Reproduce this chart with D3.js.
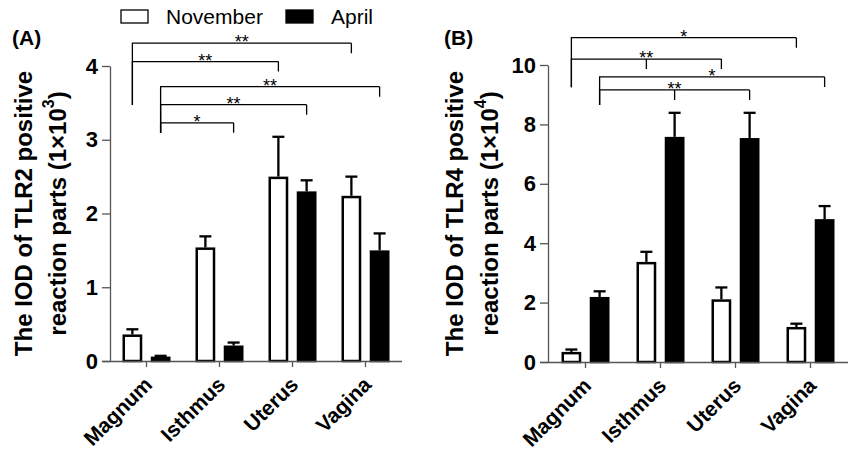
<!DOCTYPE html>
<html>
<head>
<meta charset="utf-8">
<script src="https://cdn.jsdelivr.net/npm/d3@7"></script>
<style>
  body { margin: 0; background: #fff; }
  text { font-family: "Liberation Sans", Arial, sans-serif; }
</style>
</head>
<body>
<script>
// Tissue segments and the two sampling months
const categories = ["Magnum", "Isthmus", "Uterus", "Vagina"];
const seriesNames = ["November", "April"];

// (A) TLR2 IOD, x10^3 (mean and upper error)
const tlr2Nov = [0.36, 1.54, 2.50, 2.24];
const tlr2NovErr = [0.07, 0.15, 0.54, 0.26];
const tlr2Apr = [0.06, 0.21, 2.30, 1.50];
const tlr2AprErr = [0.01, 0.04, 0.15, 0.23];
const tlr2Ticks = [0, 1, 2, 3, 4];

// (B) TLR4 IOD, x10^4
const tlr4Nov = [0.34, 3.37, 2.11, 1.18];
const tlr4NovErr = [0.08, 0.34, 0.40, 0.11];
const tlr4Apr = [2.19, 7.58, 7.54, 4.81];
const tlr4AprErr = [0.19, 0.81, 0.85, 0.44];
const tlr4Ticks = [0, 2, 4, 6, 8, 10];

// significance brackets: level / base in data units
const tlr2Sig = [
  { from: ["Magnum", "November"], to: [["Vagina", "November"]], level: 4.31, base: 3.47, label: "**" },
  { from: ["Magnum", "November"], to: [["Uterus", "November"]], level: 4.06, base: 3.47, label: "**" },
  { from: ["Magnum", "April"], to: [["Vagina", "April"]], level: 3.72, base: 3.09, label: "**" },
  { from: ["Magnum", "April"], to: [["Uterus", "April"]], level: 3.475, base: 3.09, label: "**" },
  { from: ["Magnum", "April"], to: [["Isthmus", "April"]], level: 3.23, base: 3.09, label: "*" }
];
const tlr4Sig = [
  { from: ["Magnum", "November"], to: [["Vagina", "November"]], level: 10.92, base: 9.25, label: "*" },
  { from: ["Magnum", "November"], to: [["Isthmus", "November"], ["Uterus", "November"]], level: 10.20, base: 9.25, label: "**" },
  { from: ["Magnum", "April"], to: [["Vagina", "April"]], level: 9.60, base: 8.65, label: "*" },
  { from: ["Magnum", "April"], to: [["Isthmus", "April"], ["Uterus", "April"]], level: 9.16, base: 8.65, label: "**" }
];

const svg = d3.select("body").append("svg")
  .attr("width", 848)
  .attr("height", 451);

const axisColor = "#555";
const fontStack = '"Liberation Sans", Arial, sans-serif';

const panels = [
  { tag: "(A)", nov: tlr2Nov, novErr: tlr2NovErr, apr: tlr2Apr, aprErr: tlr2AprErr,
    ticks: tlr2Ticks, sig: tlr2Sig, gene: "TLR2", exp: "3",
    left: 110, right: 402, top: 66, bottom: 361, tagX: 12, titleX: [31.5, 66] },
  { tag: "(B)", nov: tlr4Nov, novErr: tlr4NovErr, apr: tlr4Apr, aprErr: tlr4AprErr,
    ticks: tlr4Ticks, sig: tlr4Sig, gene: "TLR4", exp: "4",
    left: 548, right: 848, top: 65, bottom: 362, tagX: 444, titleX: [463, 498] }
];

panels.forEach(drawPanel);

function drawPanel(p) {
  const g = svg.append("g");

  const x0 = d3.scaleBand().domain(categories).range([p.left, p.right]).padding(0);
  const x1 = d3.scaleBand().domain(seriesNames).range([-24, 24]).paddingInner(0.3);
  const y = d3.scaleLinear().domain([0, d3.max(p.ticks)]).range([p.bottom, p.top]);

  const center = c => x0(c) + x0.bandwidth() / 2;
  const pos = ([c, s]) => center(c) + x1(s) + x1.bandwidth() / 2;

  // y axis
  const yAxis = g.append("g")
    .attr("transform", `translate(${p.left},0)`)
    .call(d3.axisLeft(y).tickValues(p.ticks).tickFormat(d3.format("d"))
      .tickSize(8).tickSizeOuter(0).tickPadding(4));
  yAxis.select(".domain").attr("stroke", axisColor).attr("stroke-width", 1.3);
  yAxis.selectAll(".tick line").attr("stroke", axisColor).attr("stroke-width", 1.3);
  yAxis.selectAll(".tick text")
    .attr("fill", "#000")
    .style("font-size", "22px")
    .style("font-weight", "bold")
    .style("font-family", fontStack);

  // bars
  const rows = categories.map((c, i) => [
    { cat: c, s: "November", v: p.nov[i], e: p.novErr[i] },
    { cat: c, s: "April", v: p.apr[i], e: p.aprErr[i] }
  ]).flat();

  const sw = 2.5;
  g.append("g").selectAll("rect")
    .data(rows)
    .join("rect")
    .attr("x", d => center(d.cat) + x1(d.s) + sw / 2)
    .attr("width", x1.bandwidth() - sw)
    .attr("y", d => y(d.v) + sw / 2)
    .attr("height", d => p.bottom - y(d.v) - sw / 2)
    .attr("fill", d => d.s === "November" ? "#fff" : "#000")
    .attr("stroke", "#000")
    .attr("stroke-width", sw);

  // error bars (upper only)
  const eb = g.append("g").attr("stroke", "#000").attr("stroke-width", 2.3);
  eb.selectAll("line.v")
    .data(rows)
    .join("line")
    .attr("class", "v")
    .attr("x1", d => pos([d.cat, d.s]))
    .attr("x2", d => pos([d.cat, d.s]))
    .attr("y1", d => y(d.v))
    .attr("y2", d => y(d.v + d.e));
  eb.selectAll("line.cap")
    .data(rows)
    .join("line")
    .attr("class", "cap")
    .attr("x1", d => pos([d.cat, d.s]) - 6)
    .attr("x2", d => pos([d.cat, d.s]) + 6)
    .attr("y1", d => y(d.v + d.e))
    .attr("y2", d => y(d.v + d.e));

  // x axis
  const xAxis = g.append("g")
    .attr("transform", `translate(0,${p.bottom})`)
    .call(d3.axisBottom(x0).tickSize(6).tickSizeOuter(0));
  xAxis.select(".domain").attr("stroke", axisColor).attr("stroke-width", 1.3)
    .attr("d", `M${p.left - 8},0.5H${p.right}`);
  xAxis.selectAll(".tick line").attr("stroke", axisColor).attr("stroke-width", 1.3);
  xAxis.selectAll(".tick text")
    .attr("fill", "#000")
    .attr("x", 0).attr("y", 0).attr("dy", 0)
    .attr("text-anchor", "end")
    .attr("transform", "translate(7,25) rotate(-45)")
    .style("font-size", "21px")
    .style("font-weight", "bold")
    .style("font-family", fontStack);

  // significance brackets
  const br = g.append("g");
  p.sig.forEach(s => {
    const xs = pos(s.from);
    const ends = s.to.map(pos);
    const xe = d3.max(ends);
    const yl = y(s.level);
    br.append("path")
      .attr("fill", "none")
      .attr("stroke", "#000")
      .attr("stroke-width", 1.3)
      .attr("d", `M${xs},${y(s.base)}V${yl}H${xe}` + ends.map(e => `M${e},${yl}V${yl + 10}`).join(""));
    br.append("text")
      .attr("x", (xs + xe) / 2)
      .attr("y", yl + 5)
      .attr("text-anchor", "middle")
      .style("font-size", "18px")
      .text(s.label);
  });

  // panel tag
  g.append("text")
    .attr("x", p.tagX)
    .attr("y", 45)
    .style("font-size", "21px")
    .style("font-weight", "bold")
    .text(p.tag);

  // y title, two lines
  const cy = (p.top + p.bottom) / 2;
  g.append("text")
    .attr("transform", `translate(${p.titleX[0]},${cy}) rotate(-90)`)
    .attr("text-anchor", "middle")
    .style("font-size", "24px")
    .style("font-weight", "bold")
    .text(`The IOD of ${p.gene} positive`);
  const t2 = g.append("text")
    .attr("transform", `translate(${p.titleX[1]},${cy}) rotate(-90)`)
    .attr("text-anchor", "middle")
    .style("font-size", "24px")
    .style("font-weight", "bold");
  t2.append("tspan").text("reaction parts (1×10");
  t2.append("tspan").attr("dy", -12).style("font-size", "16px").text(p.exp);
  t2.append("tspan").attr("dy", 12).text(")");
}

// legend
const legend = svg.append("g");
seriesNames.forEach((s, i) => {
  const lx = [121, 286][i];
  legend.append("rect")
    .attr("x", lx).attr("y", 10)
    .attr("width", 27).attr("height", 13)
    .attr("fill", s === "November" ? "#fff" : "#000")
    .attr("stroke", "#000")
    .attr("stroke-width", 1.3);
  legend.append("text")
    .attr("x", lx + 45).attr("y", 24)
    .style("font-size", "21px")
    .text(s);
});
</script>
</body>
</html>
